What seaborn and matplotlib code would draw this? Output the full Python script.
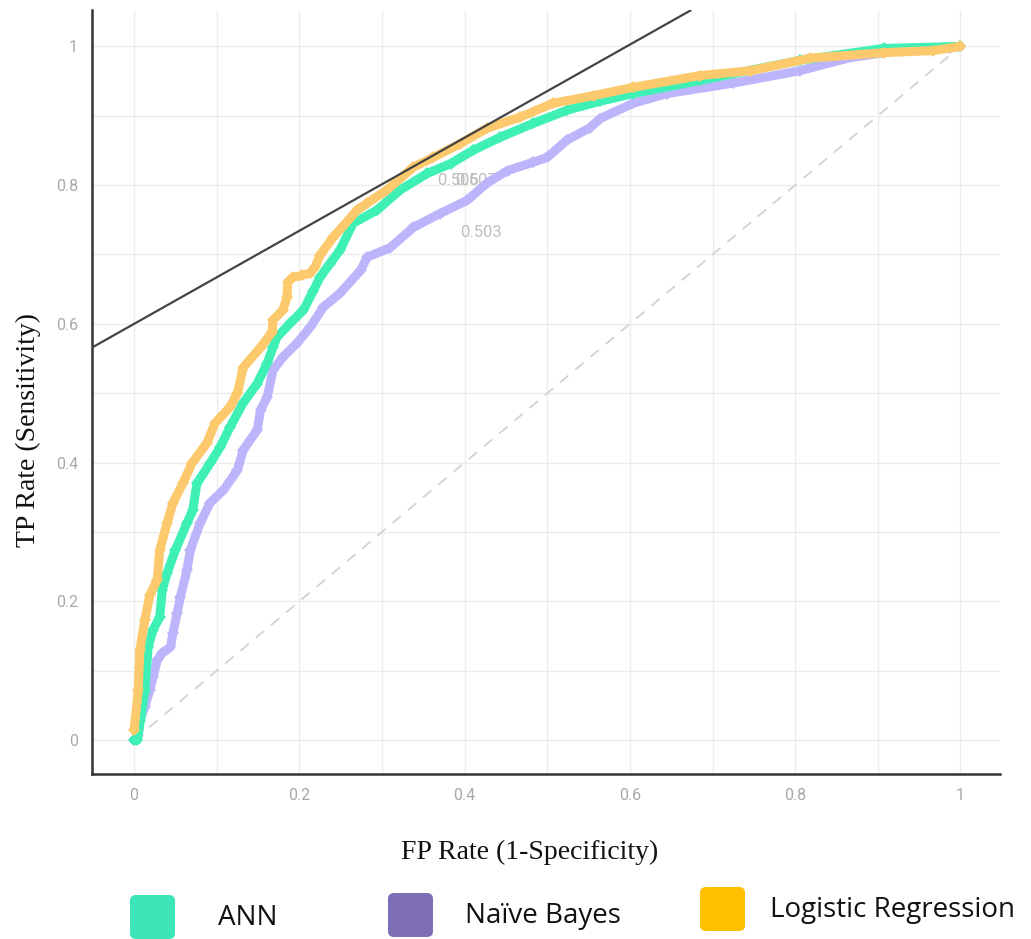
import numpy as np
import pandas as pd
import matplotlib
matplotlib.use("Agg")
import matplotlib.pyplot as plt
from matplotlib.patches import FancyBboxPatch
import seaborn as sns

# ---------------- data ----------------
lr_fpr = [0, 0, 0.005, 0.007, 0.013, 0.019, 0.028, 0.031, 0.040, 0.047, 0.059, 0.070, 0.088,
          0.098, 0.116, 0.125, 0.132, 0.153, 0.167, 0.168, 0.180, 0.185, 0.186, 0.192, 0.203,
          0.213, 0.219, 0.225, 0.241, 0.270, 0.282, 0.306, 0.338, 0.362, 0.395, 0.427, 0.467,
          0.507, 0.556, 0.604, 0.685, 0.746, 0.818, 0.907, 0.967, 1.0]
lr_tpr = [0, 0.029, 0.072, 0.130, 0.173, 0.209, 0.231, 0.274, 0.313, 0.342, 0.370, 0.399, 0.428,
          0.457, 0.480, 0.500, 0.537, 0.566, 0.588, 0.605, 0.620, 0.638, 0.660, 0.667, 0.670,
          0.673, 0.682, 0.699, 0.725, 0.764, 0.774, 0.793, 0.826, 0.840, 0.860, 0.882, 0.898,
          0.918, 0.929, 0.941, 0.958, 0.965, 0.983, 0.991, 0.994, 1.0]

ann_fpr = [0, 0.004, 0.013, 0.013, 0.013, 0.017, 0.023, 0.031, 0.034, 0.040, 0.050, 0.064, 0.071,
           0.076, 0.092, 0.104, 0.116, 0.132, 0.149, 0.161, 0.168, 0.173, 0.189, 0.205, 0.217,
           0.225, 0.237, 0.249, 0.265, 0.294, 0.322, 0.355, 0.383, 0.410, 0.443, 0.483, 0.524,
           0.564, 0.604, 0.685, 0.806, 0.907, 1.0]
ann_tpr = [0, 0, 0.024, 0.072, 0.115, 0.134, 0.159, 0.177, 0.216, 0.241, 0.274, 0.313, 0.331,
           0.370, 0.399, 0.422, 0.451, 0.486, 0.514, 0.543, 0.566, 0.581, 0.601, 0.620, 0.648,
           0.667, 0.687, 0.706, 0.745, 0.764, 0.793, 0.817, 0.831, 0.850, 0.869, 0.889, 0.908,
           0.921, 0.932, 0.951, 0.980, 0.997, 1.0]

nb_fpr = [0, 0.005, 0.007, 0.013, 0.019, 0.023, 0.028, 0.034, 0.044, 0.047, 0.052, 0.056, 0.064,
          0.068, 0.080, 0.092, 0.108, 0.125, 0.132, 0.149, 0.153, 0.161, 0.168, 0.180, 0.197,
          0.213, 0.229, 0.249, 0.274, 0.282, 0.310, 0.338, 0.370, 0.403, 0.427, 0.452, 0.483,
          0.500, 0.524, 0.552, 0.564, 0.604, 0.645, 0.725, 0.806, 0.867, 0.927, 0.988, 1.0]
nb_tpr = [0, 0.007, 0.029, 0.048, 0.072, 0.091, 0.115, 0.125, 0.134, 0.154, 0.183, 0.206, 0.245,
          0.274, 0.313, 0.342, 0.360, 0.389, 0.418, 0.447, 0.476, 0.494, 0.533, 0.552, 0.572,
          0.595, 0.624, 0.644, 0.677, 0.696, 0.710, 0.739, 0.759, 0.778, 0.803, 0.821, 0.833,
          0.840, 0.865, 0.883, 0.896, 0.918, 0.932, 0.947, 0.965, 0.984, 0.994, 0.998, 1.0]

models = ["ANN", "Naïve Bayes", "Logistic Regression"]
legend_colors = ["#3de6b8", "#7d6eb5", "#ffc000"]

# threshold annotations
ann_texts = ["0.506", "0.507", "0.503"]
ann_x = [0.392, 0.414, 0.420]
ann_y = [0.806, 0.806, 0.732]

tangent_intercept = 0.600
tangent_slope = 0.671

x_ticks = [0, 0.2, 0.4, 0.6, 0.8, 1]
x_ticklabels = ["0", "0.2", "0.4", "0.6", "0.8", "1"]
y_ticks = [0, 0.2, 0.4, 0.6, 0.8, 1]
y_ticklabels = ["0", "0.2", "0.4", "0.6", "0.8", "1"]
grid_ticks = [i / 10 for i in range(11)]

# ---------------- plotting ----------------
sns.set_theme(style="white")
plt.rcParams["font.family"] = ["DejaVu Sans"]

fig = plt.figure(figsize=(10.31, 9.39), dpi=100)
ax = fig.add_axes([0.0892, 0.1757, 0.8808, 0.8133])

ax.set_xlim(-0.051, 1.048)
ax.set_ylim(-0.049, 1.052)

ax.set_xticks(grid_ticks, minor=True)
ax.set_yticks(grid_ticks, minor=True)
ax.grid(True, which="both", color="#ececec", linewidth=1.0)
ax.set_axisbelow(True)

# chance diagonal
ax.plot([0, 1], [0, 1], linestyle=(0, (6, 5)), color="#d2d2d2", linewidth=1.3, zorder=1)

series = [
    (nb_fpr, nb_tpr, "#bdb5fb"),
    (ann_fpr, ann_tpr, "#3ff0b6"),
    (lr_fpr, lr_tpr, "#fcca6c"),
]
for z, (fx, ty, light) in enumerate(series):
    df = pd.DataFrame({"fpr": fx, "tpr": ty})
    sns.lineplot(data=df, x="fpr", y="tpr", sort=False, ax=ax, color=light,
                 linewidth=6.5, marker="D", markersize=6, markeredgewidth=0,
                 markerfacecolor=light, zorder=3 + z, solid_capstyle="round",
                 solid_joinstyle="round")

# tangent line
ax.axline((0, tangent_intercept), slope=tangent_slope, color="#444444", linewidth=1.6, zorder=10)

for t, x, y in zip(ann_texts, ann_x, ann_y):
    ax.text(x, y, t, color="#bdbdbd", fontsize=12, ha="center", va="center",
            family="Roboto", zorder=2)

ax.set_xticks(x_ticks)
ax.set_xticklabels(x_ticklabels)
ax.set_yticks(y_ticks)
ax.set_yticklabels(y_ticklabels)
ax.tick_params(axis="both", which="both", length=0, labelsize=11.5, labelcolor="#a8a8a8", pad=10)
for lab in ax.get_xticklabels() + ax.get_yticklabels():
    lab.set_family("Roboto")

ax.set_xlabel("FP Rate (1-Specificity)", family="Liberation Serif", fontsize=20,
              color="#111111")
ax.set_ylabel("TP Rate (Sensitivity)", family="Liberation Serif", fontsize=20,
              color="#111111")
ax.xaxis.set_label_coords(0.482, -0.103)
ax.yaxis.set_label_coords(-0.0705, 0.45)
ax.xaxis.label.set_va("center")
ax.yaxis.label.set_va("center")

for s in ["top", "right"]:
    ax.spines[s].set_visible(False)
for s in ["left", "bottom"]:
    ax.spines[s].set_color("#333333")
    ax.spines[s].set_linewidth(1.8)

# legend at bottom with rounded squares
W, H = 1031, 939
leg_boxes = [(130, 895), (388, 893), (700, 887)]
leg_text_x = [218, 465, 770]
for (bx, by), tx, name, col in zip(leg_boxes, leg_text_x, models, legend_colors):
    bw, bh = 45, 44
    patch = FancyBboxPatch((bx / W, 1 - (by + bh) / H), bw / W, bh / H,
                           boxstyle="round,pad=0,rounding_size=0.006",
                           transform=fig.transFigure, facecolor=col, edgecolor="none")
    fig.patches.append(patch)
    fig.text(tx / W, 1 - (by + bh / 2 + 1) / H, name, family="Open Sans", fontsize=20,
             color="#111111", ha="left", va="center")

fig.savefig("out.png", dpi=100)
